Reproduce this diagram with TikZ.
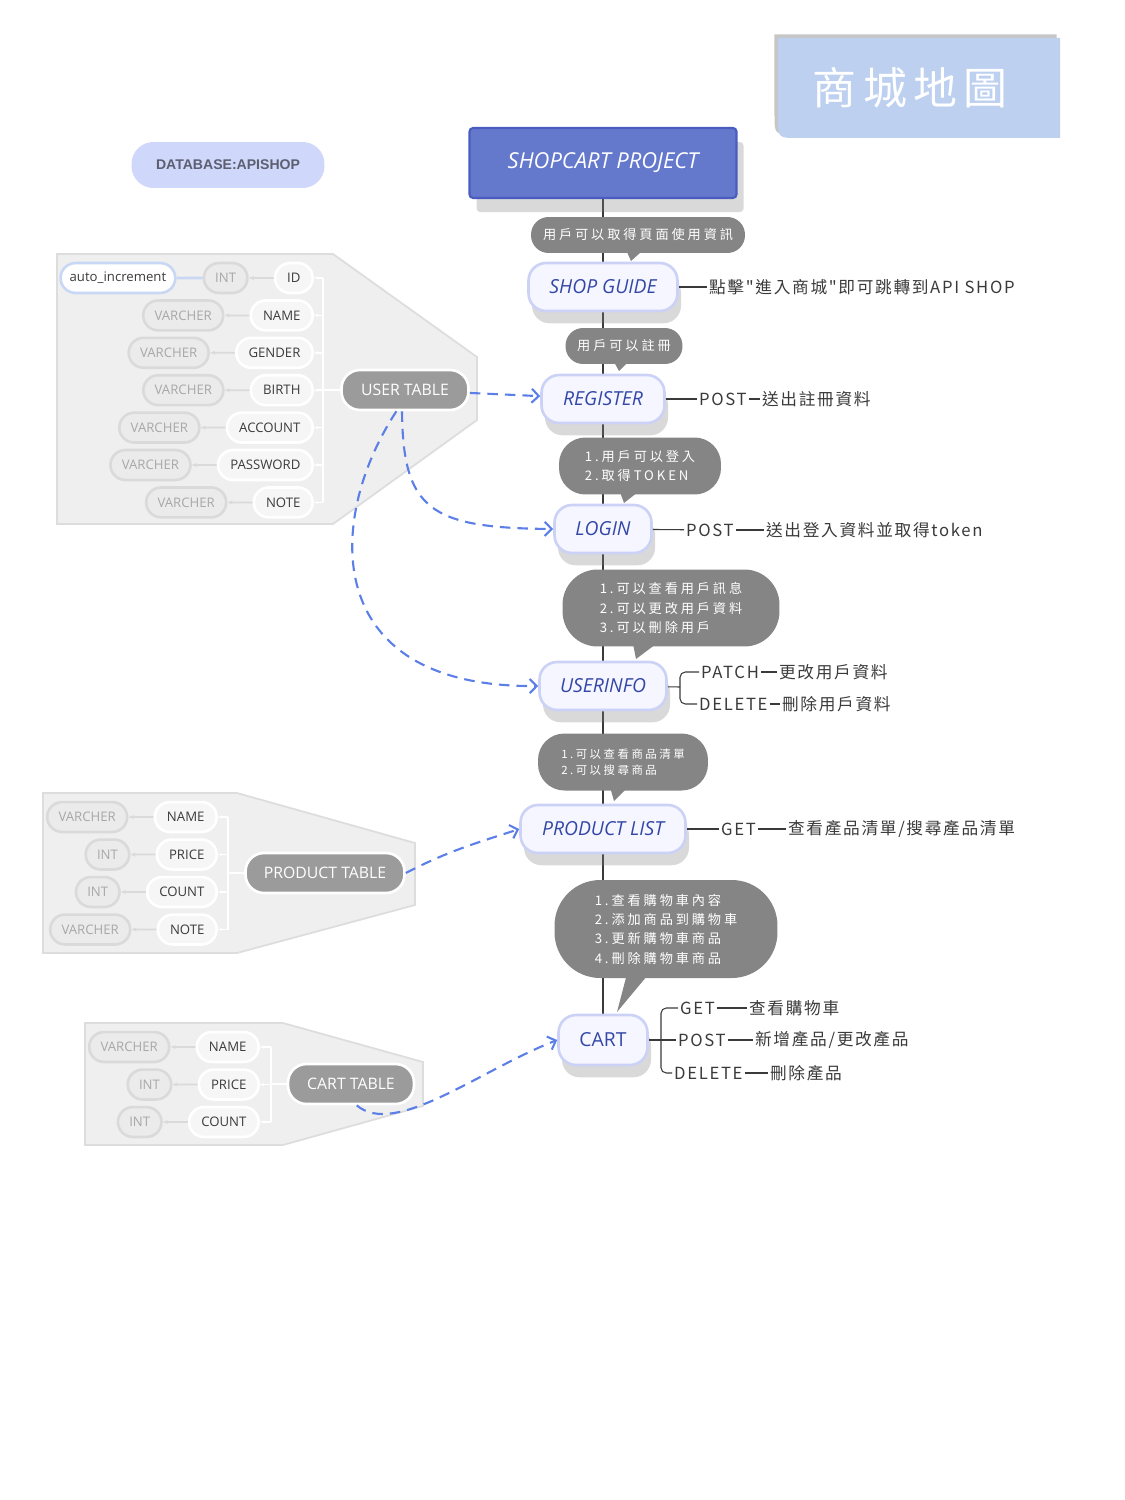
\documentclass[tikz,border=0pt]{standalone}
\usepackage{fontspec}
\setmainfont{Open Sans}
\newfontfamily\lblfont{Open Sans}
\newfontfamily\dbfont{Liberation Sans}
\newfontfamily\cjk[LetterSpace=10]{Noto Sans CJK TC}
\newfontfamily\cjkwide[LetterSpace=22]{Noto Sans CJK TC}
\newfontfamily\cjktitle[LetterSpace=14]{Noto Sans CJK TC}
\usetikzlibrary{positioning,arrows.meta,shapes.misc,shadows,backgrounds}

\definecolor{titlefill}{HTML}{BDD0F0}
\definecolor{dbfill}{HTML}{CFD7FA}
\definecolor{dbtext}{HTML}{5C5F70}
\definecolor{projfill}{HTML}{6478CC}
\definecolor{projdraw}{HTML}{4A5CBF}
\definecolor{stepfill}{HTML}{F5F6FF}
\definecolor{stepdraw}{HTML}{CCD2F6}
\definecolor{steptext}{HTML}{3447A6}
\definecolor{callfill}{HTML}{858585}
\definecolor{notetext}{HTML}{3A3A3A}
\definecolor{tblfill}{HTML}{EFEFEF}
\definecolor{tbldraw}{HTML}{DDDDDD}
\definecolor{typefill}{HTML}{EBEBEB}
\definecolor{typedraw}{HTML}{DADADA}
\definecolor{typetext}{HTML}{A8A8A8}
\definecolor{fieldfill}{HTML}{F6F6F6}
\definecolor{fieldtext}{HTML}{3C3C3C}
\definecolor{tabfill}{HTML}{9B9B9B}
\definecolor{autodraw}{HTML}{C8D8F4}
\definecolor{linkblue}{HTML}{5B7FE6}

\begin{document}
\begin{tikzpicture}[
    x=0.02cm, y=-0.02cm,
    titletext/.style={text=white, font=\cjktitle\fontsize{25}{30}\selectfont},
    dbtag/.style={rectangle, rounded corners=12.5pt, fill=dbfill, text=dbtext, font=\dbfont\bfseries\fontsize{8}{10}\selectfont, minimum width=3.86cm, minimum height=0.92cm},
    projbox/.style={rectangle, rounded corners=2pt, fill=projfill, draw=projdraw, line width=1.2pt, text=white, font=\lblfont\itshape\fontsize{12.5}{14}\selectfont, minimum width=5.34cm, minimum height=1.4cm, drop shadow={shadow xshift=4pt, shadow yshift=-8pt, opacity=.3}},
    stepbox/.style={rectangle, rounded corners=10pt, fill=stepfill, draw=stepdraw, line width=1.5pt, text=steptext, font=\lblfont\itshape\fontsize{11}{13}\selectfont, minimum height=0.96cm, drop shadow={shadow xshift=2pt, shadow yshift=-7pt, opacity=.3}},
    callout/.style={rectangle, rounded corners=10pt, fill=callfill, text=white, align=left, font=\cjkwide\fontsize{7.5}{11}\selectfont},
    note/.style={anchor=west, inner sep=1pt, text=notetext, font=\cjk\fontsize{9.5}{11}\selectfont},
    notelink/.style={draw=notetext, line width=0.6pt},
    spine/.style={draw=notetext, line width=1.6pt},
    tblshape/.style={fill=tblfill, draw=tbldraw, line width=1pt},
    field/.style={rounded rectangle, fill=fieldfill, draw=white, line width=1.5pt, text=fieldtext, font=\fontsize{7.5}{9}\selectfont, inner xsep=6.5pt, minimum height=17pt},
    ftype/.style={rounded rectangle, fill=typefill, draw=typedraw, line width=1.5pt, text=typetext, font=\fontsize{7.5}{9}\selectfont, inner xsep=6pt, minimum height=17pt},
    tabname/.style={rectangle, rounded corners=10.5pt, fill=tabfill, draw=white, line width=1.5pt, text=white, font=\fontsize{9}{11}\selectfont, minimum height=0.8cm},
    typelink/.style={draw=typedraw, line width=1pt, -{Stealth[length=3pt]}},
    brk/.style={draw=white, line width=1pt},
    link/.style={draw=linkblue, line width=1.2pt, dash pattern=on 6pt off 4pt, -{Straight Barb[length=4pt]}}
]
\useasboundingbox (0,0) rectangle (1125,1500);

% title and database tag
\fill[titlefill, drop shadow={shadow xshift=-2pt, shadow yshift=2pt, opacity=.45}] (778,38) -- (1060,38) -- (1060,138) -- (798,138) .. controls (778,138) .. (778,118) -- cycle;
\node[titletext] (title) at (910,88) {商城地圖};
\node[dbtag] (dbname) at (228,165) {DATABASE:APISHOP};

% main flow
\node[projbox] (project) at (603,163) {SHOPCART PROJECT};
\node[stepbox, minimum width=2.98cm] (shopguide) at (603,287) {SHOP GUIDE};
\node[stepbox, minimum width=2.46cm] (register) at (603,399) {REGISTER};
\node[stepbox, minimum width=1.94cm] (login) at (603,529) {LOGIN};
\node[stepbox, minimum width=2.54cm] (userinfo) at (603,686) {USERINFO};
\node[stepbox, minimum width=3.3cm] (productlist) at (603,829) {PRODUCT LIST};
\node[stepbox, minimum width=1.78cm, minimum height=1cm, font=\fontsize{11}{13}\selectfont] (cart) at (603,1040) {CART};

\begin{scope}[on background layer]
\foreach \a/\b in {project/shopguide, shopguide/register, register/login, login/userinfo, userinfo/productlist, productlist/cart}
    \draw[spine] (\a) -- (\b);
\end{scope}

% callouts
\node[callout, minimum width=4.28cm, minimum height=0.72cm] (tip1) at (638,235) {用戶可以取得頁面使用資訊};
\fill[callfill] (627,252) -- (641,252) -- (631,261) -- cycle;
\node[callout, minimum width=2.34cm, minimum height=0.72cm] (tip2) at (624,346) {用戶可以註冊};
\fill[callfill] (614,362) -- (628,362) -- (619,371) -- cycle;
\node[callout, rounded corners=15pt, minimum width=3.24cm, minimum height=1.14cm] (tip3) at (640,466) {1.用戶可以登入\\2.取得TOKEN};
\fill[callfill] (620,492) -- (638,492) -- (624,503) -- cycle;
\node[callout, rounded corners=20pt, minimum width=4.34cm, minimum height=1.54cm] (tip4) at (671,608) {1.可以查看用戶訊息\\2.可以更改用戶資料\\3.可以刪除用戶};
\fill[callfill] (633,644) -- (656,644) -- (636,659) -- cycle;
\node[callout, rounded corners=15pt, minimum width=3.4cm, minimum height=1.14cm, font=\cjkwide\fontsize{6.5}{9.5}\selectfont] (tip5) at (623,762) {1.可以查看商品清單\\2.可以搜尋商品};
\fill[callfill] (610,787) -- (628,787) -- (614,801) -- cycle;
\node[callout, rounded corners=26pt, minimum width=4.46cm, minimum height=1.96cm] (tip6) at (666,929) {1.查看購物車內容\\2.添加商品到購物車\\3.更新購物車商品\\4.刪除購物車商品};
\fill[callfill] (628,970) -- (652,970) -- (617,1012) -- cycle;

% notes on the right
\node[note] (sgnote) at (707,287) {點擊"進入商城"即可跳轉到API SHOP};
\draw[notelink] (shopguide) -- (sgnote);

\node[note] (regpost) at (697,399) {POST};
\node[note] (regnote) at (760,399) {送出註冊資料};
\draw[notelink] (register) -- (regpost);
\draw[notelink] (regpost) -- (regnote);

\node[note] (logpost) at (684,530) {POST};
\node[note] (lognote) at (764,530) {送出登入資料並取得token};
\draw[notelink] (login) -- (logpost);
\draw[notelink] (logpost) -- (lognote);

\coordinate (uib) at (680,687);
\node[note] (uipatch) at (699,672) {PATCH};
\node[note] (uipnote) at (777,672) {更改用戶資料};
\node[note] (uidel) at (697,704) {DELETE};
\node[note] (uidnote) at (780,704) {刪除用戶資料};
\draw[notelink] (userinfo) -- (uib);
\draw[notelink, rounded corners=3pt] (uipatch.west) -| (uib) |- (uidel.west);
\draw[notelink] (uipatch) -- (uipnote);
\draw[notelink] (uidel) -- (uidnote);

\node[note] (plget) at (719,829) {GET};
\node[note] (plnote) at (786,829) {查看產品清單/搜尋產品清單};
\draw[notelink] (productlist) -- (plget);
\draw[notelink] (plget) -- (plnote);

\coordinate (cb) at (661,1040);
\node[note] (cget) at (678,1008) {GET};
\node[note] (cgnote) at (747,1008) {查看購物車};
\node[note] (cpost) at (676,1040) {POST};
\node[note] (cpnote) at (753,1040) {新增產品/更改產品};
\node[note] (cdel) at (672,1073) {DELETE};
\node[note] (cdnote) at (768,1073) {刪除產品};
\draw[notelink] (cart) -- (cpost);
\draw[notelink, rounded corners=3pt] (cget.west) -| (cb) |- (cdel.west);
\draw[notelink] (cget) -- (cgnote);
\draw[notelink] (cpost) -- (cpnote);
\draw[notelink] (cdel) -- (cdnote);

% user table
\draw[tblshape] (57,254) -- (333,254) -- (477,357) -- (477,420) -- (333,524) -- (57,524) -- cycle;
\node[tabname, minimum width=2.54cm] (usertable) at (405,390) {USER TABLE};
\coordinate (ubr) at (323,390);
\foreach \i/\f/\t in {1/ID/INT, 2/NAME/VARCHER, 3/GENDER/VARCHER, 4/BIRTH/VARCHER, 5/ACCOUNT/VARCHER, 6/PASSWORD/VARCHER, 7/NOTE/VARCHER} {
    \node[field, anchor=east] (uf\i) at (314,{278+37.4*(\i-1)}) {\f};
    \node[ftype, left=0.5cm of uf\i] (ut\i) {\t};
    \draw[typelink] (uf\i) -- (ut\i);
    \draw[brk, -{Stealth[length=2.5pt]}] (ubr |- uf\i) -- (uf\i.east);
}
\draw[brk] (ubr |- uf1) -- (ubr |- uf7);
\draw[brk] (usertable) -- (ubr);
\node[rounded rectangle, fill=white, draw=autodraw, line width=1.5pt, text=fieldtext, font=\fontsize{7.5}{9}\selectfont, inner xsep=4.5pt, minimum height=17pt, left=0.52cm of ut1] (autoinc) {auto\_increment};
\draw[draw=autodraw, line width=1.5pt] (autoinc) -- (ut1);

% product table
\draw[tblshape] (43,793) -- (237,793) -- (415,843) -- (415,905) -- (237,953) -- (43,953) -- cycle;
\node[tabname, minimum width=3.18cm] (producttable) at (325,873) {PRODUCT TABLE};
\coordinate (pbr) at (228,873);
\foreach \i/\f/\t in {1/NAME/VARCHER, 2/PRICE/INT, 3/COUNT/INT, 4/NOTE/VARCHER} {
    \node[field, anchor=east] (pf\i) at (218,{817+37.5*(\i-1)}) {\f};
    \node[ftype, left=0.5cm of pf\i] (pt\i) {\t};
    \draw[typelink] (pf\i) -- (pt\i);
    \draw[brk, -{Stealth[length=2.5pt]}] (pbr |- pf\i) -- (pf\i.east);
}
\draw[brk] (pbr |- pf1) -- (pbr |- pf4);
\draw[brk] (producttable) -- (pbr);

% cart table
\draw[tblshape] (85,1023) -- (283,1023) -- (423,1062) -- (423,1106) -- (283,1145) -- (85,1145) -- cycle;
\node[tabname, minimum width=2.52cm] (carttable) at (351,1084) {CART TABLE};
\coordinate (cbr) at (271,1084);
\foreach \i/\f/\t in {1/NAME/VARCHER, 2/PRICE/INT, 3/COUNT/INT} {
    \node[field, anchor=east] (cf\i) at (260,{1047+37.5*(\i-1)}) {\f};
    \node[ftype, left=0.5cm of cf\i] (ct\i) {\t};
    \draw[typelink] (cf\i) -- (ct\i);
    \draw[brk, -{Stealth[length=2.5pt]}] (cbr |- cf\i) -- (cf\i.east);
}
\draw[brk] (cbr |- cf1) -- (cbr |- cf3);
\draw[brk] (carttable) -- (cbr);

% table links
\draw[link] (usertable) -- (register);
\draw[link] (usertable.262) .. controls (403,510) and (430,528) .. (login.west);
\draw[link] (usertable.248) .. controls (325,520) and (320,688) .. (userinfo.west);
\draw[link] (producttable.east) .. controls (450,850) and (480,842) .. (productlist.west);
\draw[link] (carttable.-75) .. controls (395,1138) and (480,1070) .. (cart.west);
\end{tikzpicture}
\end{document}
